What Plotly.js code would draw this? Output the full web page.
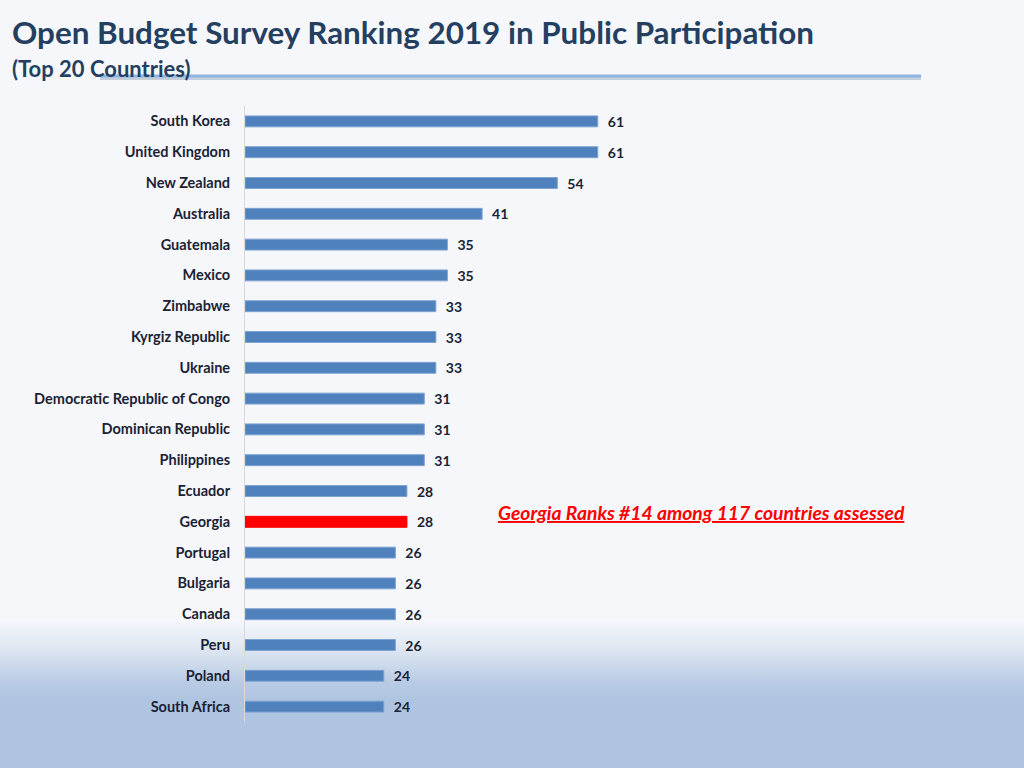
<!DOCTYPE html>
<html>
<head>
<meta charset="utf-8">
<script src="https://cdn.plot.ly/plotly-3.0.1.min.js"></script>
<style>
html,body{margin:0;padding:0;width:1024px;height:768px;overflow:hidden;
background:linear-gradient(to bottom,#F5F7FB 0px,#F5F7FB 620px,#DDE6F2 650px,#B9CBE4 682px,#AFC4E1 700px,#AFC4E1 768px);}
#chart{width:1024px;height:768px;}
</style>
</head>
<body>
<div id="chart"></div>
<script>
const countries = ["South Korea","United Kingdom","New Zealand","Australia","Guatemala","Mexico","Zimbabwe","Kyrgiz Republic","Ukraine","Democratic Republic of Congo","Dominican Republic","Philippines","Ecuador","Georgia","Portugal","Bulgaria","Canada","Peru","Poland","South Africa"];
const scores = [61,61,54,41,35,35,33,33,33,31,31,31,28,28,26,26,26,26,24,24];
const highlight = "Georgia";
const titleText = "Open Budget Survey Ranking 2019 in Public Participation";
const subtitleText = "(Top 20 Countries)";
const noteText = "Georgia Ranks #14 among 117 countries assessed";

const FONT = "Lato, 'Open Sans', sans-serif";
const colors = countries.map(c => c === highlight ? "#FF0000" : "#4F81BD");
const lineColors = countries.map(c => c === highlight ? "#FF0000" : "#7FA3D2");

const trace = {
  type: "bar",
  orientation: "h",
  y: countries,
  x: scores,
  marker: {color: colors, line: {color: lineColors, width: 1}},
  text: scores.map(v => "\u2002" + v),
  textposition: "outside",
  constraintext: "none",
  cliponaxis: false,
  textfont: {family: FONT, size: 14, color: "#1B2233", weight: "bold"},
  hoverinfo: "skip"
};

const layout = {
  width: 1024, height: 768,
  paper_bgcolor: "rgba(0,0,0,0)",
  plot_bgcolor: "rgba(0,0,0,0)",
  margin: {l: 245, r: 85, t: 106, b: 46},
  bargap: 0.645,
  showlegend: false,
  font: {family: FONT},
  xaxis: {range: [0, 120], visible: false, fixedrange: true},
  yaxis: {
    autorange: "reversed",
    showline: true, linecolor: "#D9D9D9", linewidth: 1,
    showgrid: false, zeroline: false,
    ticks: "", ticklabelstandoff: 11,
    tickfont: {family: FONT, size: 14.5, color: "#1B2233", weight: "bold"},
    fixedrange: true
  },
  shapes: [
    {type: "line", xref: "paper", yref: "paper",
     x0: (100-245)/694, x1: (921-245)/694,
     y0: (768-46-78)/616, y1: (768-46-78)/616,
     line: {color: "#C5CFDC", width: 4}},
    {type: "line", xref: "paper", yref: "paper",
     x0: (100-245)/694, x1: (921-245)/694,
     y0: (768-46-76)/616, y1: (768-46-76)/616,
     line: {color: "#8EB4E3", width: 3}}
  ],
  annotations: [
    {text: "<b>" + titleText + "</b>", xref: "paper", yref: "paper",
     x: (10-245)/694, y: (768-46-53)/616, xanchor: "left", yanchor: "bottom",
     showarrow: false, font: {family: FONT, size: 31.4, color: "#243F60"}},
    {text: "<b>" + subtitleText + "</b>", xref: "paper", yref: "paper",
     x: (10-245)/694, y: (768-46-84)/616, xanchor: "left", yanchor: "bottom",
     showarrow: false, font: {family: FONT, size: 22, color: "#243F60"}},
    {text: "<b><i><u>" + noteText + "</u></i></b>", xref: "paper", yref: "paper",
     x: (701-245)/694, y: (768-46-512)/616, xanchor: "center", yanchor: "middle",
     showarrow: false, font: {family: FONT, size: 19.3, color: "#FF0000"}}
  ]
};

Plotly.newPlot("chart", [trace], layout, {displayModeBar: false, staticPlot: true});
</script>
</body>
</html>
